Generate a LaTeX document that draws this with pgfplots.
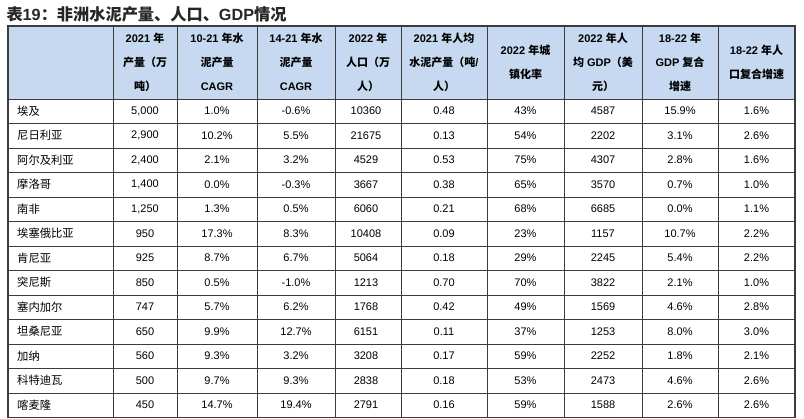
\documentclass[border=0pt]{standalone}
\usepackage{pgfplots}
\usepackage{pgfplotstable}
\pgfplotsset{compat=1.18}
\usepackage{fontspec}
\setmainfont{Liberation Sans}
\newfontfamily\cjk{Noto Sans CJK SC}
\definecolor{hdr}{RGB}{198,217,241}
\definecolor{gridc}{RGB}{60,60,60}

\pgfplotstableread{
i name prod ca cb pop percap urban gdppc gdpc popc
1 埃及 5,000 1.0\% -0.6\% 10360 0.48 43\% 4587 15.9\% 1.6\%
2 尼日利亚 2,900 10.2\% 5.5\% 21675 0.13 54\% 2202 3.1\% 2.6\%
3 阿尔及利亚 2,400 2.1\% 3.2\% 4529 0.53 75\% 4307 2.8\% 1.6\%
4 摩洛哥 1,400 0.0\% -0.3\% 3667 0.38 65\% 3570 0.7\% 1.0\%
5 南非 1,250 1.3\% 0.5\% 6060 0.21 68\% 6685 0.0\% 1.1\%
6 埃塞俄比亚 950 17.3\% 8.3\% 10408 0.09 23\% 1157 10.7\% 2.2\%
7 肯尼亚 925 8.7\% 6.7\% 5064 0.18 29\% 2245 5.4\% 2.2\%
8 突尼斯 850 0.5\% -1.0\% 1213 0.70 70\% 3822 2.1\% 1.0\%
9 塞内加尔 747 5.7\% 6.2\% 1768 0.42 49\% 1569 4.6\% 2.8\%
10 坦桑尼亚 650 9.9\% 12.7\% 6151 0.11 37\% 1253 8.0\% 3.0\%
11 加纳 560 9.3\% 3.2\% 3208 0.17 59\% 2252 1.8\% 2.1\%
12 科特迪瓦 500 9.7\% 9.3\% 2838 0.18 53\% 2473 4.6\% 2.6\%
13 喀麦隆 450 14.7\% 19.4\% 2791 0.16 59\% 1588 2.6\% 2.6\%
}\datatable

\pgfplotsset{
  cell/.style={draw=none, mark=none, nodes near coords, point meta=explicit symbolic,
    every node near coord/.append style={anchor=center, inner sep=0pt, text=black,
      font=\fontsize{11}{13}\selectfont}},
}

\begin{document}
\begin{tikzpicture}
\begin{axis}[
  scale only axis, width=804pt, height=418pt,
  xmin=0, xmax=804, ymin=0, ymax=418, y dir=reverse,
  hide axis, clip=false,
]
% frame of the picture
\path (axis cs:0,0) rectangle (axis cs:804,418);
% title
\node[anchor=west, font=\fontsize{16.2}{18}\selectfont\bfseries, text=black!85] at (axis cs:3,14)
  {{\cjk 表}19{\cjk ：非洲水泥产量、人口、}GDP{\cjk 情况}};
% header background
\fill[hdr] (axis cs:8,26) rectangle (axis cs:795,99);
% horizontal lines
\pgfplotsinvokeforeach{99,123.5,148,172.5,197,221.5,246,270.5,295,319.5,344,368.5,393}{
  \draw[gridc, line width=1pt] (axis cs:8,#1) -- (axis cs:795,#1);
}
% vertical lines
\pgfplotsinvokeforeach{113,177,257,335,401,487,564,642,718}{
  \draw[gridc, line width=1pt] (axis cs:#1,26) -- (axis cs:#1,418);
}
% outer border
\draw[gridc, line width=1.4pt] (axis cs:8,418) -- (axis cs:8,26) -- (axis cs:795,26) -- (axis cs:795,418);
\draw[gridc, line width=1.4pt] (axis cs:8,417.3) -- (axis cs:795,417.3);

% header text
\begin{scope}[every node/.style={align=center, font=\fontsize{11}{24}\selectfont\bfseries, text=black}]
\node at (axis cs:145,62) {2021 {\cjk 年}\\{\cjk 产量（万}\\{\cjk 吨）}};
\node at (axis cs:217,62) {10-21 {\cjk 年水}\\{\cjk 泥产量}\\CAGR};
\node at (axis cs:296,62) {14-21 {\cjk 年水}\\{\cjk 泥产量}\\CAGR};
\node at (axis cs:368,62) {2022 {\cjk 年}\\{\cjk 人口（万}\\{\cjk 人）}};
\node at (axis cs:444,62) {2021 {\cjk 年人均}\\{\cjk 水泥产量（吨}/\\{\cjk 人）}};
\node at (axis cs:525.5,62) {2022 {\cjk 年城}\\{\cjk 镇化率}};
\node at (axis cs:603,62) {2022 {\cjk 年人}\\{\cjk 均} GDP{\cjk （美}\\{\cjk 元）}};
\node at (axis cs:680,62) {18-22 {\cjk 年}\\GDP {\cjk 复合}\\{\cjk 增速}};
\node at (axis cs:756.5,62) {18-22 {\cjk 年人}\\{\cjk 口复合增速}};
\end{scope}

% data cells
\addplot[cell, every node near coord/.append style={anchor=west, font=\cjk\fontsize{11.3}{13}\selectfont}]
  table[x expr=17, y expr=86.5+24.5*\thisrow{i}, meta=name] {\datatable};
\addplot[cell] table[x expr=145, y expr=86.5+24.5*\thisrow{i}, meta=prod] {\datatable};
\addplot[cell] table[x expr=217, y expr=86.5+24.5*\thisrow{i}, meta=ca] {\datatable};
\addplot[cell] table[x expr=296, y expr=86.5+24.5*\thisrow{i}, meta=cb] {\datatable};
\addplot[cell] table[x expr=366, y expr=86.5+24.5*\thisrow{i}, meta=pop] {\datatable};
\addplot[cell] table[x expr=444, y expr=86.5+24.5*\thisrow{i}, meta=percap] {\datatable};
\addplot[cell] table[x expr=525.5, y expr=86.5+24.5*\thisrow{i}, meta=urban] {\datatable};
\addplot[cell] table[x expr=603, y expr=86.5+24.5*\thisrow{i}, meta=gdppc] {\datatable};
\addplot[cell] table[x expr=680, y expr=86.5+24.5*\thisrow{i}, meta=gdpc] {\datatable};
\addplot[cell] table[x expr=756.5, y expr=86.5+24.5*\thisrow{i}, meta=popc] {\datatable};
\end{axis}
\end{tikzpicture}
\end{document}
